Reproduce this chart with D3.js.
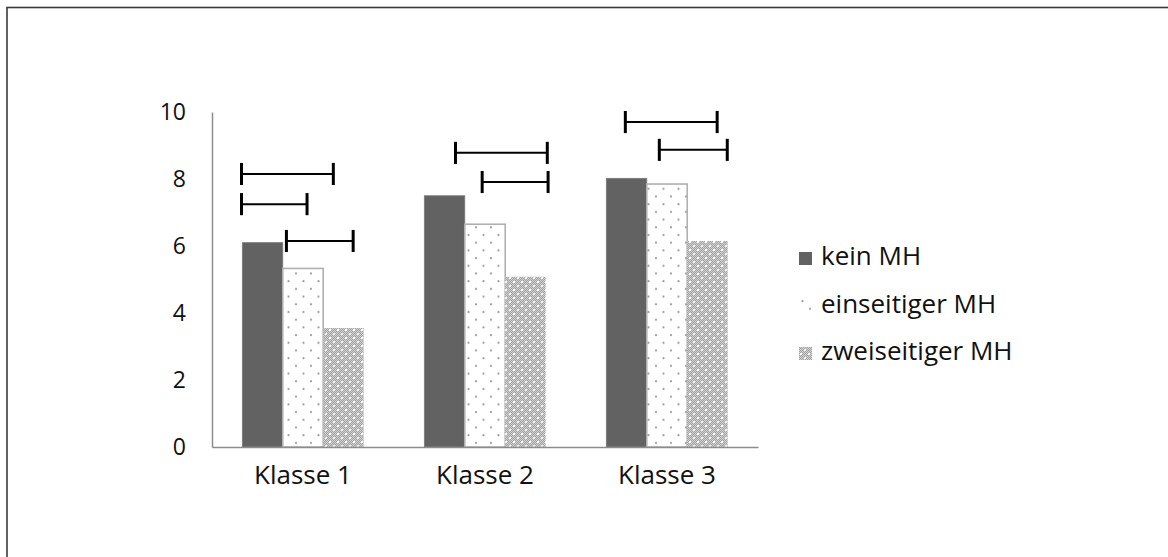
<!DOCTYPE html>
<html><head><meta charset="utf-8">
<script src="https://cdn.jsdelivr.net/npm/d3@7/dist/d3.min.js"></script>
<style>body{margin:0;background:#fff}svg{display:block}text{font-family:"Open Sans",Lato,sans-serif;fill:#111}</style>
</head><body><svg id="c" width="1168" height="557"></svg>
<script>
const categories = ["Klasse 1", "Klasse 2", "Klasse 3"];
const series = ["kein MH", "einseitiger MH", "zweiseitiger MH"];
const keinMH = [6.1, 7.5, 8.02];
const einseitigerMH = [5.33, 6.65, 7.85];
const zweiseitigerMH = [3.55, 5.08, 6.15];
const yTicks = [0, 2, 4, 6, 8, 10];
// significance brackets: category, start/end in bar-width units from group start, height value
const bracketCat = [0, 0, 0, 1, 1, 2, 2];
const bracketFrom = [-0.02, -0.02, 1.09, 0.77, 1.43, 0.47, 1.31];
const bracketTo = [2.25, 1.6, 2.74, 3.04, 3.06, 2.74, 2.99];
const bracketY = [8.15, 7.25, 6.15, 8.78, 7.91, 9.7, 8.87];

const values = [keinMH, einseitigerMH, zweiseitigerMH];
const svg = d3.select("#c");
const defs = svg.append("defs");
const FONT = "'Open Sans',Lato,sans-serif";

// dotted pattern
const p1 = defs.append("pattern").attr("id","dots").attr("patternUnits","userSpaceOnUse")
  .attr("width",15).attr("height",15.4);
p1.append("rect").attr("width",15).attr("height",15.4).attr("fill","#fff");
p1.append("circle").attr("cx",3.5).attr("cy",4).attr("r",1.1).attr("fill","#9a9a9a");
p1.append("circle").attr("cx",11).attr("cy",11.7).attr("r",1.1).attr("fill","#9a9a9a");

// dense checker pattern with white spots
const p2 = defs.append("pattern").attr("id","cross").attr("patternUnits","userSpaceOnUse")
  .attr("width",8).attr("height",8);
p2.append("rect").attr("width",8).attr("height",8).attr("fill","#a2a2a2");
for (let i=0;i<8;i++) for (let j=0;j<8;j++) if ((i+j)%2===0)
  p2.append("rect").attr("x",i).attr("y",j).attr("width",1).attr("height",1).attr("fill","#d2d2d2");
p2.append("rect").attr("x",1).attr("y",1).attr("width",2).attr("height",2).attr("fill","#fff");
p2.append("rect").attr("x",5).attr("y",5).attr("width",2).attr("height",2).attr("fill","#f4f4f4");

const fills = ["#626262", "url(#dots)", "url(#cross)"];
const strokes = ["#7a7a7a", "#b0b0b0", "none"];

// outer frame
svg.append("rect").attr("x",7).attr("y",7.5).attr("width",1200).attr("height",600)
  .attr("fill","none").attr("stroke","#3a3a3a").attr("stroke-width",1.6);

const y = d3.scaleLinear().domain([0,10]).range([447,112]);
const x = d3.scaleBand().domain(categories).range([212,758]).paddingInner(1/3).paddingOuter(1/6);
const xs = d3.scaleBand().domain(series).range([0,x.bandwidth()]);
const bw = xs.bandwidth();

// bars
series.forEach((s,si)=>{
  svg.append("g").selectAll("rect").data(categories).join("rect")
    .attr("x",(c)=>x(c)+xs(s))
    .attr("y",(c,i)=>y(values[si][i]))
    .attr("width",bw)
    .attr("height",(c,i)=>y(0)-y(values[si][i]))
    .attr("fill",fills[si])
    .attr("stroke",strokes[si])
    .attr("stroke-width",si===1?1.6:0.8);
});

// axes
const yAxis = svg.append("g").attr("transform","translate(212,0)")
  .call(d3.axisLeft(y).tickValues(yTicks).tickSize(0).tickPadding(26).tickFormat(d3.format("d")));
yAxis.select(".domain").attr("stroke","#8c8c8c").attr("stroke-width",1.5);
yAxis.selectAll("text").attr("font-size",23).attr("font-family",FONT).attr("fill","#111");

const xAxis = svg.append("g").attr("transform","translate(0,447)")
  .call(d3.axisBottom(x).tickSize(0).tickPadding(19));
xAxis.select(".domain").attr("stroke","#8c8c8c").attr("stroke-width",1.5);
xAxis.selectAll("text").attr("font-size",26).attr("font-family",FONT).attr("fill","#111")
  .attr("dy","0.71em");

// brackets
const bg = svg.append("g").attr("stroke","#000");
bracketCat.forEach((ci,k)=>{
  const x0 = x(categories[ci]) + bracketFrom[k]*bw;
  const x1 = x(categories[ci]) + bracketTo[k]*bw;
  const yy = y(bracketY[k]);
  const h = y(0)-y(0.33);
  bg.append("line").attr("x1",x0).attr("x2",x1).attr("y1",yy).attr("y2",yy).attr("stroke-width",2);
  bg.append("line").attr("x1",x0).attr("x2",x0).attr("y1",yy-h).attr("y2",yy+h).attr("stroke-width",3);
  bg.append("line").attr("x1",x1).attr("x2",x1).attr("y1",yy-h).attr("y2",yy+h).attr("stroke-width",3);
});

// legend
const lg = svg.append("g").attr("transform","translate(799,265)");
series.forEach((s,si)=>{
  const g = lg.append("g").attr("transform",`translate(0,${si*47.5})`);
  g.append("rect").attr("x",0).attr("y",-13).attr("width",13).attr("height",13).attr("fill",fills[si]);
  g.append("text").attr("x",22).attr("y",0).attr("font-size",26).attr("font-family",FONT).text(s);
});
</script></body></html>
